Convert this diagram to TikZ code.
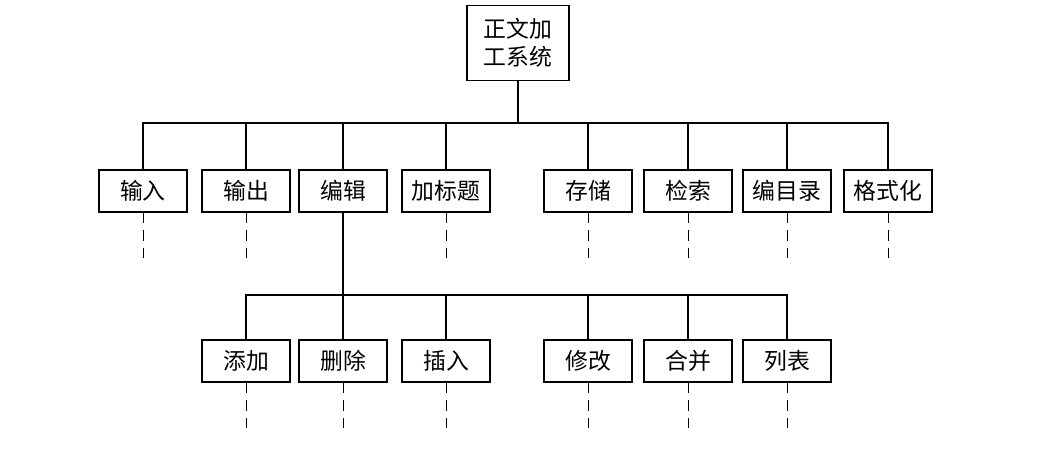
\documentclass[tikz,border=0pt]{standalone}
\usepackage{fontspec}
\newfontfamily\cjk{Noto Sans CJK SC}
\begin{document}
\begin{tikzpicture}[x=0.02cm,y=-0.02cm,
		box/.style={draw,thick,minimum width=1.76cm,minimum height=0.84cm,inner sep=1pt,font=\cjk\fontsize{13pt}{16pt}\selectfont},
		link/.style={thick},
		tail/.style={dashed,thin,dash pattern=on 6pt off 4pt}]
	\useasboundingbox (0,0) rectangle (1063,452);
	\node[box,minimum width=2.04cm,minimum height=1.5cm,align=center] (root) at (518,43) {正文加\\工系统};
	% first level
	\node[box] (in) at (143,191) {输入};
	\node[box] (out) at (246,191) {输出};
	\node[box] (edit) at (343,191) {编辑};
	\node[box] (title) at (446,191) {加标题};
	\node[box] (store) at (588,191) {存储};
	\node[box] (find) at (688,191) {检索};
	\node[box] (cat) at (787,191) {编目录};
	\node[box] (fmt) at (888,191) {格式化};
	% second level
	\node[box] (add) at (246,361) {添加};
	\node[box] (del) at (343,361) {删除};
	\node[box] (ins) at (446,361) {插入};
	\node[box] (mod) at (588,361) {修改};
	\node[box] (mrg) at (688,361) {合并};
	\node[box] (lst) at (787,361) {列表};
	% buses
	\coordinate (bus1) at (518,123);
	\coordinate (bus2) at (343,295);
	\draw[link] (root.south) -- (bus1);
	\draw[link] (in.north) |- (bus1) -| (fmt.north);
	\foreach \n in {out,edit,title,store,find,cat}
		\draw[link] (\n.north) -- (\n.north |- bus1);
	\draw[link] (edit.south) -- (bus2);
	\draw[link] (add.north) |- (bus2) -| (lst.north);
	\foreach \n in {del,ins,mod,mrg}
		\draw[link] (\n.north) -- (\n.north |- bus2);
	% dashed tails
	\foreach \n in {in,out,title,store,find,cat,fmt}
		\draw[tail] (\n.south) -- ++(0,50);
	\foreach \n in {add,del,ins,mod,mrg,lst}
		\draw[tail] (\n.south) -- ++(0,50);
\end{tikzpicture}
\end{document}
